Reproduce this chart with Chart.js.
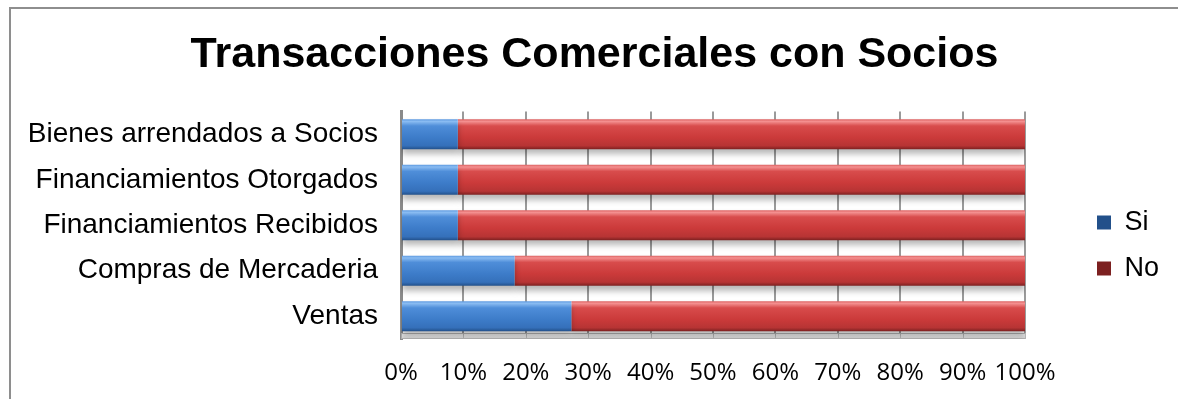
<!DOCTYPE html>
<html>
<head>
<meta charset="utf-8">
<title>Transacciones Comerciales con Socios</title>
<script src="https://cdn.jsdelivr.net/npm/chart.js@4/dist/chart.umd.min.js"></script>
<style>
  html, body { margin: 0; padding: 0; background: #fff; overflow: hidden; }
  #wrap { position: relative; width: 1178px; height: 399px; }
  #frame {
    position: absolute; left: 9px; top: 7px; width: 1400px; height: 600px;
    border-top: 2px solid #8e8e8e; border-left: 2px solid #8e8e8e;
  }
  #chart { position: absolute; left: 0; top: 0; }
</style>
</head>
<body>
<div id="wrap">
  <div id="frame"></div>
  <canvas id="chart" width="1178" height="399"></canvas>
</div>
<script>
// categories, top to bottom
const categories = [
    'Bienes arrendados a Socios',
    'Financiamientos Otorgados',
    'Financiamientos Recibidos',
    'Compras de Mercaderia',
    'Ventas'
];

// share of answers, in percent
const si = [9.1, 9.1, 9.1, 18.2, 27.3];
const no = [90.9, 90.9, 90.9, 81.8, 72.7];

const xTicks = [0, 10, 20, 30, 40, 50, 60, 70, 80, 90, 100];

const BAR_H = 30;

const blueStops = [
    [0, '#5e9ae0'], [0.07, '#8abcf2'], [0.22, '#4f8ed9'],
    [0.6, '#3d7cc9'], [0.88, '#3570ba'], [1, '#22508a']
];
const redStops = [
    [0, '#dc6262'], [0.07, '#f49090'], [0.22, '#d84c4c'],
    [0.6, '#cb3a3a'], [0.88, '#b73434'], [1, '#7c2020']
];

// bevel-like vertical gradient per bar, centred on the category pixel
function barFill(stops, flat) {
    return (ctx) => {
        const chart = ctx.chart;
        const y = chart.scales && chart.scales.y;
        if (ctx.type !== 'data' || !y) return flat;
        const c = y.getPixelForValue(ctx.dataIndex);
        if (!Number.isFinite(c)) return flat;
        const g = chart.ctx.createLinearGradient(0, c - BAR_H / 2, 0, c + BAR_H / 2);
        stops.forEach(s => g.addColorStop(s[0], s[1]));
        return g;
    };
}

// outline only on the legend swatches
const swatchBorder = (ctx) => (ctx.type === 'data' ? 0 : 1);

// floor strip under the bars + soft shadow below them
const floorAndShadow = {
    id: 'floorAndShadow',
    beforeDatasetsDraw(chart) {
        const { ctx, chartArea: a } = chart;
        const x = chart.scales.x;
        ctx.save();
        const top = a.bottom - 6;
        const g = ctx.createLinearGradient(0, top, 0, a.bottom);
        g.addColorStop(0, '#f4f4f4');
        g.addColorStop(1, '#d2d2d2');
        ctx.fillStyle = g;
        ctx.fillRect(a.left, top, a.right - a.left, 6);
        ctx.strokeStyle = '#b4b4b4';
        ctx.lineWidth = 1;
        ctx.beginPath();
        ctx.moveTo(a.left, top + 0.5);
        ctx.lineTo(a.right, top + 0.5);
        ctx.moveTo(a.left, a.bottom - 0.5);
        ctx.lineTo(a.right, a.bottom - 0.5);
        xTicks.forEach(v => {
            const px = Math.round(x.getPixelForValue(v)) + 0.5;
            ctx.moveTo(px, top);
            ctx.lineTo(px, a.bottom);
        });
        ctx.stroke();
        ctx.restore();

        ctx.save();
        ctx.shadowColor = 'rgba(0, 0, 0, 0.28)';
        ctx.shadowBlur = 6;
        ctx.shadowOffsetX = 0;
        ctx.shadowOffsetY = 5;
    },
    afterDatasetsDraw(chart) {
        chart.ctx.restore();
    }
};

const data = {
    labels: categories,
    datasets: [{
        label: 'Si',
        data: si,
        backgroundColor: barFill(blueStops, '#4a88d3'),
        borderColor: '#2d609e',
        borderWidth: swatchBorder,
        barPercentage: 0.66,
        categoryPercentage: 1
    }, {
        label: 'No',
        data: no,
        backgroundColor: barFill(redStops, '#d44646'),
        borderColor: '#902828',
        borderWidth: swatchBorder,
        barPercentage: 0.66,
        categoryPercentage: 1
    }]
};

const config = {
    type: 'bar',
    data: data,
    options: {
        indexAxis: 'y',
        responsive: false,
        animation: false,
        layout: {
            padding: { left: 20, right: 9, top: 0, bottom: 0 }
        },
        scales: {
            x: {
                stacked: true,
                min: 0,
                max: 100,
                afterBuildTicks: (s) => { s.ticks = xTicks.map(v => ({ value: v })); },
                afterFit: (s) => { s.height = 60; },
                grid: { color: '#9a9a9a', lineWidth: 2, drawTicks: false },
                border: { display: false },
                ticks: {
                    padding: 20,
                    color: '#000',
                    autoSkip: false,
                    maxRotation: 0,
                    minRotation: 0,
                    font: { family: 'Open Sans', size: 24 },
                    callback: (v) => v + '%'
                }
            },
            y: {
                stacked: true,
                afterFit: (s) => { s.width = 381; },
                grid: { display: false, drawTicks: false },
                border: { display: true, color: '#8a8a8a', width: 3 },
                ticks: {
                    padding: 23,
                    color: '#000',
                    font: { family: 'Liberation Sans', size: 28 }
                }
            },
            // empty strip between the plot and the legend
            gap: {
                type: 'category',
                axis: 'y',
                position: 'right',
                afterFit: (s) => { s.width = 53; },
                grid: { display: false, drawTicks: false },
                border: { display: false },
                ticks: { display: false }
            }
        },
        plugins: {
            title: {
                display: true,
                text: 'Transacciones Comerciales con Socios',
                color: '#000',
                font: { family: 'Liberation Sans', size: 43, weight: 'bold' },
                padding: { top: 29, bottom: 31 }
            },
            legend: {
                position: 'right',
                // blank heading that pushes the two entries down
                title: {
                    display: true,
                    text: ' ',
                    font: { size: 10, lineHeight: 1 },
                    padding: { top: 82, bottom: 0 }
                },
                labels: {
                    color: '#000',
                    boxWidth: 14,
                    boxHeight: 14,
                    padding: 19,
                    font: { family: 'Liberation Sans', size: 27 }
                }
            },
            tooltip: { enabled: false }
        }
    },
    plugins: [floorAndShadow]
};

const chart = new Chart(document.getElementById('chart'), config);
</script>
</body>
</html>
